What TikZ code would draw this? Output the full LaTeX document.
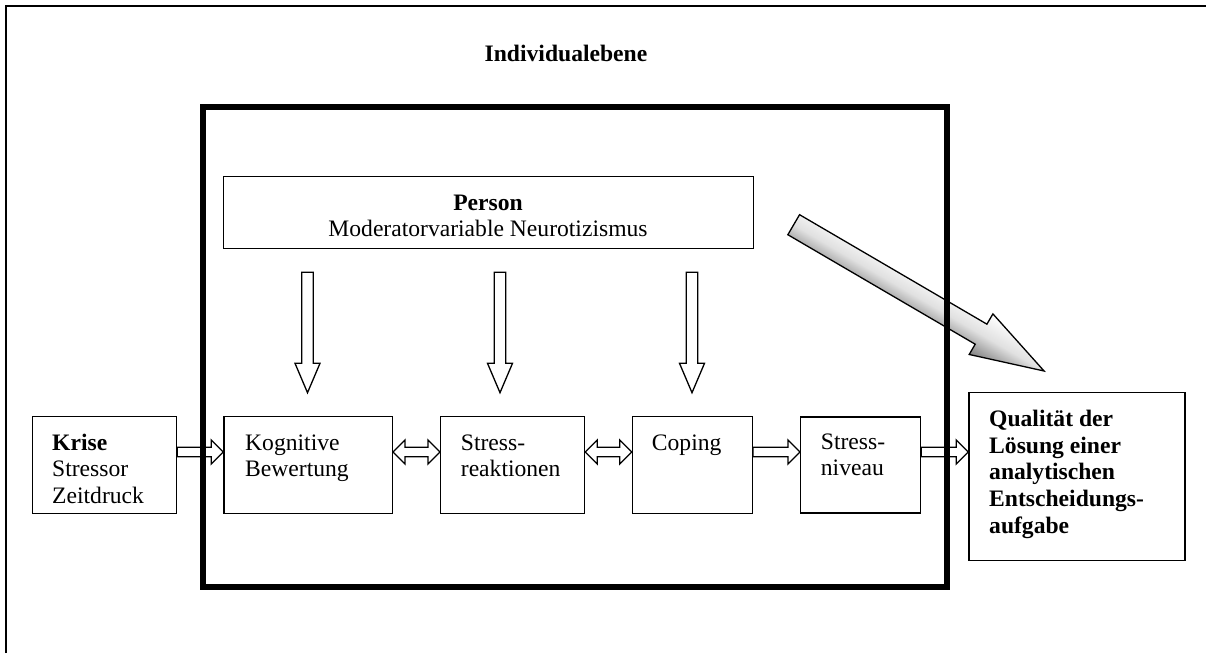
\documentclass[tikz,border=0pt]{standalone}
\usepackage{fontspec}
\setmainfont{Liberation Serif}
\usetikzlibrary{calc}
\newcommand\myfs{\fontsize{23.6}{26.7}\selectfont}
\tikzset{
 box/.style={draw, line width=1.3pt, inner sep=0pt, anchor=north west, fill=white},
 txt/.style={anchor=base west, inner sep=0pt, font=\myfs},
 hol/.style={draw, line width=1.3pt, fill=white, line join=miter},
}
\newcommand\myRarrow[2]{\draw[hol] ($#1+(0,-4.7)$) -- ($#2+(-12,-4.7)$) -- ($#2+(-12,-12)$) -- #2 -- ($#2+(-12,12)$) -- ($#2+(-12,4.7)$) -- ($#1+(0,4.7)$) -- cycle;}
\newcommand\myDblarrow[2]{\draw[hol] #1 -- ($#1+(12,-12)$) -- ($#1+(12,-4.7)$) -- ($#2+(-12,-4.7)$) -- ($#2+(-12,-12)$) -- #2 -- ($#2+(-12,12)$) -- ($#2+(-12,4.7)$) -- ($#1+(12,4.7)$) -- ($#1+(12,12)$) -- cycle;}
\newcommand\myDownarrow[2]{\draw[hol] ($#1+(-5.8,0)$) -- ($#2+(-5.8,-29.4)$) -- ($#2+(-12.5,-29.4)$) -- #2 -- ($#2+(12.5,-29.4)$) -- ($#2+(5.8,-29.4)$) -- ($#1+(5.8,0)$) -- cycle;}
\begin{document}
\begin{tikzpicture}[x=1pt,y=-1pt]
\useasboundingbox (0,0) rectangle (1206,653);
\draw[line width=1.5pt] (6,653) -- (6,6) -- (1206,6);
\node[txt, anchor=base, font={\myfs\bfseries}] (ttl) at (566,61) {Individualebene};
% boxes
\node[box, minimum width=530pt, minimum height=72pt] (person) at (223,176) {};
\node[box, minimum width=144.5pt, minimum height=96.5pt] (krise) at (31.5,416) {};
\node[box, minimum width=168.4pt, minimum height=96.5pt] (kb) at (223.3,416) {};
\node[box, minimum width=144pt, minimum height=96.5pt] (sr) at (440,416) {};
\node[box, minimum width=120pt, minimum height=96.5pt] (cp) at (631.7,416) {};
\node[box, minimum width=120pt, minimum height=96pt] (sn) at (800,416.3) {};
\node[box, minimum width=216pt, minimum height=168pt] (ql) at (968.3,392) {};
% texts
\node[txt, anchor=base] (pt) at (488,210) {\vtop{\hbox to 500pt{\hfil\textbf{Person}\hfil}\hbox to 500pt{\hfil Moderatorvariable Neurotizismus\hfil}}};
\node[txt] (kriset) at (52,450) {\vtop{\hbox{\textbf{Krise}}\hbox{Stressor}\hbox{Zeitdruck}}};
\node[txt] (kbt) at (245,450) {\vtop{\hbox{Kognitive}\hbox{Bewertung}}};
\node[txt] (srt) at (460.7,450) {\vtop{\hbox{Stress-}\hbox{reaktionen}}};
\node[txt] (cpt) at (651.7,450) {Coping};
\node[txt] (snt) at (820.7,449) {\vtop{\hbox{Stress-}\hbox{niveau}}};
\node[txt, font={\myfs\bfseries}] (qlt) at (989,426.5) {\vtop{\hbox{Qualität der}\hbox{Lösung einer}\hbox{analytischen}\hbox{Entscheidungs-}\hbox{aufgabe}}};
% horizontal arrows
\coordinate (ay) at (0,452);
\myRarrow{(krise.east |- ay)}{(kb.west |- ay)}
\myDblarrow{(kb.east |- ay)}{(sr.west |- ay)}
\myDblarrow{(sr.east |- ay)}{(cp.west |- ay)}
\myRarrow{(cp.east |- ay)}{(sn.west |- ay)}
\myRarrow{(sn.east |- ay)}{(ql.west |- ay)}
% down arrows
\coordinate (d1t) at (307.5,272.3); \coordinate (d1b) at (307.5,392.7);
\coordinate (d2t) at (500,272.3);   \coordinate (d2b) at (500,392.7);
\coordinate (d3t) at (692,272.3);   \coordinate (d3b) at (692,392.7);
\myDownarrow{(d1t)}{(d1b)}
\myDownarrow{(d2t)}{(d2b)}
\myDownarrow{(d3t)}{(d3b)}
% big gray arrow
\begin{scope}[transform canvas={shift={(793.7,224.7)}, rotate=-30.3}]
\shade[draw=black, line width=1.3pt, line join=miter, top color=white, bottom color=black!50, middle color=black!12]
  (0,-11.6) -- (217,-11.6) -- (217,-23.5) -- (290,0) -- (217,23.5) -- (217,11.6) -- (0,11.6) -- cycle;
\end{scope}
% thick frame
\node[draw, line width=6pt, inner sep=0pt, anchor=north west, minimum width=743.5pt, minimum height=480pt] (indiv) at (200,104) {};
\end{tikzpicture}
\end{document}
